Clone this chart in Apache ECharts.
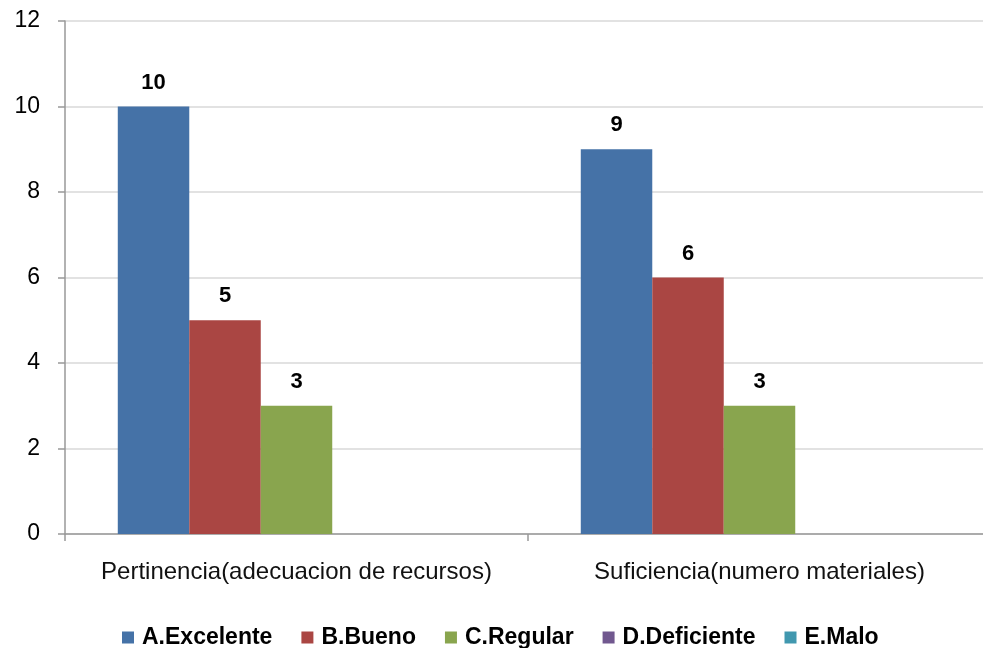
<!DOCTYPE html>
<html>
<head>
<meta charset="utf-8">
<script src="https://cdn.jsdelivr.net/npm/echarts@6/dist/echarts.min.js"></script>
<style>html,body{margin:0;padding:0;background:#fff;overflow:hidden;width:983px;height:648px;}#c{width:1000px;height:648px;}</style>
</head>
<body>
<div id="c"></div>
<script>
var categories = ['Pertinencia(adecuacion de recursos)', 'Suficiencia(numero materiales)'];
var seriesNames = ['A.Excelente', 'B.Bueno', 'C.Regular', 'D.Deficiente', 'E.Malo'];
var excelente = [10, 9];
var bueno = [5, 6];
var regular = [3, 3];
var deficiente = [null, null];
var malo = [null, null];
var yTicks = [0, 2, 4, 6, 8, 10, 12];

var colors = ['#4572A7', '#AA4643', '#89A54E', '#71588F', '#4198AF'];
var values = [excelente, bueno, regular, deficiente, malo];
var FONT = 'Liberation Sans, Arial, sans-serif';

var chart = echarts.init(document.getElementById('c'));
chart.setOption({
  animation: false,
  textStyle: {fontFamily: FONT},
  grid: {left: 65, right: 9, top: 21, bottom: 114, containLabel: false},
  legend: {
    top: 621,
    left: 117,
    itemWidth: 12,
    itemHeight: 12,
    itemGap: 29,
    icon: 'rect',
    textStyle: {fontSize: 23, fontWeight: 'bold', color: '#000', fontFamily: FONT, padding: [0, 0, 0, 3]},
    data: seriesNames
  },
  xAxis: {
    type: 'category',
    data: categories,
    axisLine: {lineStyle: {color: '#999', width: 1.5}},
    axisTick: {show: true, length: 7, lineStyle: {color: '#999', width: 1.5}},
    axisLabel: {fontSize: 24, color: '#111', margin: 26, interval: 0, fontFamily: FONT},
    splitLine: {show: false}
  },
  yAxis: {
    type: 'value',
    min: yTicks[0],
    max: yTicks[yTicks.length - 1],
    interval: 2,
    axisLine: {show: true, lineStyle: {color: '#999', width: 1.5}},
    axisTick: {show: true, length: 7, lineStyle: {color: '#999', width: 1.5}},
    axisLabel: {fontSize: 23, color: '#000', margin: 25, fontFamily: FONT},
    splitLine: {lineStyle: {color: '#d9d9d9', width: 1.5}}
  },
  series: seriesNames.map(function (n, i) {
    return {
      name: n,
      type: 'bar',
      data: values[i],
      barGap: '0%',
      barCategoryGap: '22.8%',
      itemStyle: {color: colors[i]},
      label: {show: true, position: 'top', distance: 13, fontSize: 22, fontWeight: 'bold', color: '#000', fontFamily: FONT}
    };
  })
});
</script>
</body>
</html>
